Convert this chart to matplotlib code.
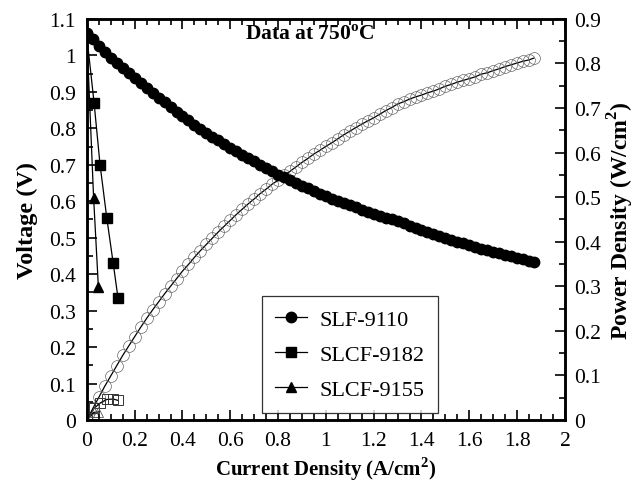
import matplotlib.pyplot as plt
from matplotlib.ticker import MultipleLocator, FormatStrFormatter

plt.rcParams['font.family'] = 'Liberation Serif'
plt.rcParams['mathtext.fontset'] = 'custom'
plt.rcParams['mathtext.rm'] = 'Liberation Serif'
plt.rcParams['mathtext.bf'] = 'Liberation Serif:bold'

# SLF-9110
i_slf = [0.000, 0.025, 0.050, 0.075, 0.100, 0.125, 0.150, 0.175, 0.200, 0.225,
         0.250, 0.275, 0.300, 0.325, 0.350, 0.375, 0.400, 0.425, 0.450, 0.475,
         0.500, 0.525, 0.550, 0.575, 0.600, 0.625, 0.650, 0.675, 0.700, 0.725,
         0.750, 0.775, 0.800, 0.825, 0.850, 0.875, 0.900, 0.925, 0.950, 0.975,
         1.000, 1.025, 1.050, 1.075, 1.100, 1.125, 1.150, 1.175, 1.200, 1.225,
         1.250, 1.275, 1.300, 1.325, 1.350, 1.375, 1.400, 1.425, 1.450, 1.475,
         1.500, 1.525, 1.550, 1.575, 1.600, 1.625, 1.650, 1.675, 1.700, 1.725,
         1.750, 1.775, 1.800, 1.825, 1.850, 1.870]
v_slf = [1.062, 1.045, 1.027, 1.010, 0.992, 0.978, 0.964, 0.951, 0.937, 0.923,
         0.910, 0.897, 0.884, 0.871, 0.858, 0.846, 0.834, 0.822, 0.810, 0.799,
         0.788, 0.777, 0.767, 0.757, 0.747, 0.737, 0.727, 0.718, 0.709, 0.700,
         0.691, 0.682, 0.673, 0.665, 0.657, 0.649, 0.642, 0.635, 0.628, 0.621,
         0.614, 0.607, 0.601, 0.595, 0.589, 0.583, 0.577, 0.571, 0.565, 0.560,
         0.555, 0.550, 0.545, 0.539, 0.533, 0.527, 0.521, 0.515, 0.509, 0.504,
         0.499, 0.494, 0.489, 0.484, 0.479, 0.474, 0.470, 0.465, 0.461, 0.457,
         0.453, 0.449, 0.445, 0.441, 0.437, 0.434]
p_slf = [0.000, 0.026, 0.051, 0.076, 0.099, 0.122, 0.145, 0.166, 0.187, 0.208,
         0.228, 0.247, 0.265, 0.283, 0.300, 0.317, 0.334, 0.349, 0.365, 0.380,
         0.394, 0.408, 0.422, 0.435, 0.448, 0.461, 0.473, 0.485, 0.496, 0.508,
         0.518, 0.529, 0.538, 0.549, 0.558, 0.568, 0.578, 0.587, 0.597, 0.605,
         0.614, 0.622, 0.631, 0.640, 0.648, 0.656, 0.664, 0.671, 0.678, 0.686,
         0.694, 0.701, 0.709, 0.714, 0.720, 0.725, 0.729, 0.734, 0.738, 0.743,
         0.749, 0.753, 0.758, 0.762, 0.766, 0.770, 0.776, 0.779, 0.784, 0.788,
         0.793, 0.797, 0.801, 0.805, 0.808, 0.812]

# SLCF-9182
i_9182 = [0.000, 0.030, 0.055, 0.083, 0.110, 0.130]
v_9182 = [1.050, 0.870, 0.700, 0.555, 0.430, 0.335]
p_9182 = [0.000, 0.026, 0.038, 0.046, 0.047, 0.044]

# SLCF-9155
i_9155 = [0.000, 0.028, 0.048]
v_9155 = [1.050, 0.610, 0.365]
p_9155 = [0.000, 0.017, 0.018]

fig = plt.figure(figsize=(6.39, 4.85), dpi=100)
ax = fig.add_axes([0.136, 0.132, 0.748, 0.827])
ax2 = ax.twinx()
ax.set_zorder(ax2.get_zorder() + 1)
ax.patch.set_visible(False)

# power density (open markers)
ax2.plot(i_slf, p_slf, '-', color='black', lw=0.9, marker='o', ms=8.5,
         mfc='none', mec='#666666', mew=0.5)
ax2.plot(i_9182, p_9182, '-', color='black', lw=0.9, marker='s', ms=7,
         mfc='none', mec='#333333', mew=0.7)
ax2.plot(i_9155, p_9155, '-', color='black', lw=0.9, marker='^', ms=7,
         mfc='none', mec='#555555', mew=0.6)

# voltage (filled markers)
ax.plot(i_slf, v_slf, '-', color='black', lw=0.9, marker='o', ms=7.5,
        mfc='black', mec='black', label='SLF-9110')
ax.plot(i_9182, v_9182, '-', color='black', lw=0.9, marker='s', ms=7.5,
        mfc='black', mec='black', label='SLCF-9182')
ax.plot(i_9155, v_9155, '-', color='black', lw=0.9, marker='^', ms=7.5,
        mfc='black', mec='black', label='SLCF-9155')

ax.set_xlim(0, 2)
ax.set_ylim(0, 1.1)
ax2.set_ylim(0, 0.9)

ax.xaxis.set_major_locator(MultipleLocator(0.2))
ax.xaxis.set_minor_locator(MultipleLocator(0.05))
ax.yaxis.set_major_locator(MultipleLocator(0.1))
ax.yaxis.set_minor_locator(MultipleLocator(0.05))
ax2.yaxis.set_major_locator(MultipleLocator(0.1))
ax2.yaxis.set_minor_locator(MultipleLocator(0.05))
for a in (ax.xaxis, ax.yaxis, ax2.yaxis):
    a.set_major_formatter(FormatStrFormatter('%g'))

ax.tick_params(which='both', direction='in', top=True, right=False,
               labelsize=15.5, width=1.2)
ax.tick_params(axis='x', pad=8)
ax.tick_params(axis='y', pad=8)
ax.tick_params(which='major', length=7)
ax.tick_params(which='minor', length=4)
ax2.tick_params(which='both', direction='in', labelsize=15.5, width=1.2, pad=7)
ax2.tick_params(which='major', length=7)
ax2.tick_params(which='minor', length=4)

for s in ax.spines.values():
    s.set_linewidth(1.8)
for s in ax2.spines.values():
    s.set_linewidth(1.8)

ax.set_xlabel(r'Current Density (A/cm$^{\mathbf{2}}$)', fontsize=15,
              fontweight='bold', labelpad=3)
ax.set_ylabel('Voltage (V)', fontsize=17.5, fontweight='bold', labelpad=8)
ax2.set_ylabel(r'Power Density (W/cm$^{\mathbf{2}}$)', fontsize=17,
               fontweight='bold', labelpad=3)

ax.text(0.33, 0.962, r'Data at 750$^{\mathbf{o}}$C', transform=ax.transAxes,
        fontsize=15.5, fontweight='bold', va='center', ha='left')

leg = ax.legend(loc='upper left', bbox_to_anchor=(0.366, 0.309), fontsize=16,
                frameon=True, fancybox=False, edgecolor='black',
                handlelength=1.45, handletextpad=0.55, borderpad=0.6,
                labelspacing=0.65, borderaxespad=0)
leg.get_frame().set_linewidth(0.9)

fig.savefig('out.png', dpi=100)
